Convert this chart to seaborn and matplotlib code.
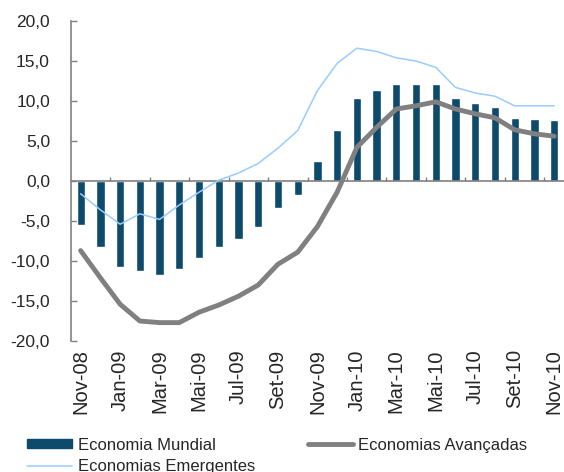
import numpy as np
import pandas as pd
import seaborn as sns
import matplotlib.pyplot as plt
from matplotlib.patches import Patch
from matplotlib.lines import Line2D
from matplotlib.ticker import FuncFormatter

months = ["Nov-08", "Dez-08", "Jan-09", "Fev-09", "Mar-09", "Abr-09", "Mai-09",
          "Jun-09", "Jul-09", "Ago-09", "Set-09", "Out-09", "Nov-09", "Dez-09",
          "Jan-10", "Fev-10", "Mar-10", "Abr-10", "Mai-10", "Jun-10", "Jul-10",
          "Ago-10", "Set-10", "Out-10", "Nov-10"]
mundial = [-5.5, -8.2, -10.8, -11.3, -11.7, -11.0, -9.6, -8.2, -7.2, -5.7, -3.4, -1.7,
           2.5, 6.4, 10.4, 11.4, 12.1, 12.1, 12.1, 10.4, 9.7, 9.3, 7.9, 7.75, 7.6]
avancadas = [-8.7, -12.1, -15.4, -17.5, -17.7, -17.7, -16.4, -15.5, -14.4, -13.0, -10.4, -8.9,
             -5.7, -1.4, 4.2, 6.7, 9.0, 9.4, 9.9, 9.0, 8.4, 7.9, 6.4, 5.9, 5.6]
emergentes = [-1.6, -3.6, -5.4, -4.1, -4.8, -3.0, -1.4, 0.1, 1.0, 2.2, 4.1, 6.3,
              11.3, 14.7, 16.6, 16.2, 15.4, 15.0, 14.2, 11.7, 11.0, 10.6, 9.4, 9.4, 9.4]

BAR = "#0D4A6B"
GREY = "#808080"
LIGHT = "#99CCFF"

sns.set_style("white")
plt.rcParams["font.family"] = ["Liberation Sans", "DejaVu Sans"]

df = pd.DataFrame({"mes": months, "mundial": mundial,
                   "avancadas": avancadas, "emergentes": emergentes})
df["pos"] = np.arange(len(df))

fig = plt.figure(figsize=(5.64, 4.72), dpi=100)
ax = fig.add_axes([0.1255, 0.2775, 0.8745, 0.678])

sns.barplot(data=df, x="mes", y="mundial", color=BAR, width=0.42,
            saturation=1, ax=ax)
sns.lineplot(data=df, x="pos", y="avancadas", color=GREY, linewidth=3.5,
             sort=False, ax=ax)
sns.lineplot(data=df, x="pos", y="emergentes", color=LIGHT, linewidth=1.1,
             sort=False, ax=ax)

ax.set_xlim(-0.5, len(df) - 0.5)
ax.set_ylim(-20, 20)
ax.set_yticks(np.arange(-20, 20.1, 5))
ax.yaxis.set_major_formatter(FuncFormatter(lambda v, _: f"{v:.1f}".replace(".", ",")))
ax.tick_params(axis="y", left=True, direction="in", length=4, width=1,
               color="#808080", labelsize=12.5, pad=15)

ax.set_xticks(df["pos"][::2])
ax.set_xticklabels(df["mes"][::2], rotation=90, fontsize=14.5)
ax.tick_params(axis="x", bottom=False, length=0, pad=6)

for s in ["top", "right", "bottom"]:
    ax.spines[s].set_visible(False)
ax.spines["left"].set_color("#808080")
ax.spines["left"].set_linewidth(1.2)

# zero axis with its tick marks between every second month
ax.axhline(0, color="#808080", linewidth=1.2, zorder=1)
ax.vlines(df["pos"][1:-1:2] + 0.5, 0, 0.5, color="#808080", linewidth=1, zorder=1)

ax.set_xlabel("")
ax.set_ylabel("")

handles = [Patch(facecolor=BAR, edgecolor=BAR, label="Economia Mundial"),
           Line2D([], [], color=LIGHT, linewidth=1.1, label="Economias Emergentes"),
           Line2D([], [], color=GREY, linewidth=3.5, label="Economias Avançadas")]
fig.legend(handles=handles, ncol=2, loc="upper left", bbox_to_anchor=(0.048, 0.073),
           frameon=False, fontsize=12, handlelength=2.7, handleheight=0.45,
           handletextpad=0.35, columnspacing=3.15, labelspacing=0.38,
           borderaxespad=0, borderpad=0)

fig.savefig("out.png", dpi=100)
